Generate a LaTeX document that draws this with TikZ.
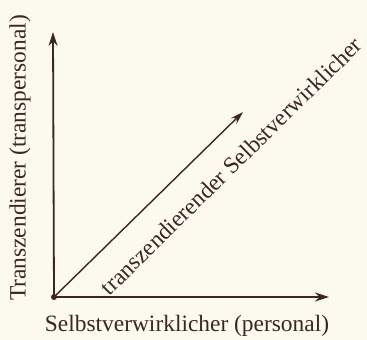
\documentclass[tikz,border=0pt]{standalone}
\usepackage{fontspec}
\setmainfont{Liberation Serif}
\usetikzlibrary{arrows.meta,positioning,calc}
\definecolor{paper}{RGB}{252,249,238}
\definecolor{ink}{RGB}{60,38,34}

\begin{document}
\begin{tikzpicture}[
  x=1bp,y=1bp,
  axis/.style={draw=ink,line width=1.8bp,-{Stealth[length=14bp,width=9bp]}},
  diag/.style={draw=ink,line width=1.4bp,-{Stealth[length=13bp,width=8bp]}},
  label/.style={text=ink,font=\fontsize{23.5}{26}\selectfont,inner sep=0pt}]
  \fill[paper](0,0)rectangle(367,340);
  \useasboundingbox(0,0)rectangle(367,340);
  \node[circle,fill=ink,minimum size=6bp,inner sep=0pt](o) at(54,43){};
  \coordinate(ytip) at(53,308);\coordinate(xtip) at(329,43);
  \coordinate(dtip) at(243,228);
  \draw[axis](o.center)--(ytip);\draw[axis](o.center)--(xtip);
  \draw[diag](o.center)--(dtip);
  \node[label,rotate=90](ylab) at(20,182){Transzendierer (transpersonal)};
  \node[label](xlab) at(187,14){Selbstverwirklicher (personal)};
  \node[label,rotate=44.5](dlab) at(231,174){transzendierender Selbstverwirklicher};
\end{tikzpicture}
\end{document}
